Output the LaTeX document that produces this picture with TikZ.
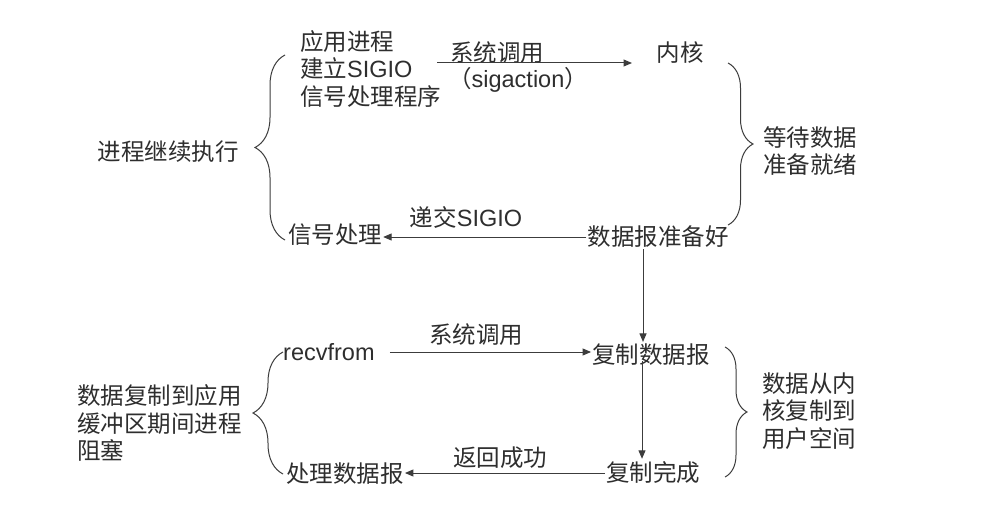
\documentclass[tikz,border=0pt]{standalone}
\usepackage{fontspec}
\setmainfont{Noto Sans CJK SC}
\newfontfamily\lat{Liberation Sans}
\usetikzlibrary{arrows.meta,decorations.pathreplacing}

\definecolor{ink}{HTML}{2E2E2E}
\definecolor{wire}{HTML}{3C3C3C}

\tikzset{
  txt/.style={inner sep=1pt, text=ink, font=\fontsize{23.5}{27.5}\selectfont},
  block/.style={txt, align=left},
  arr/.style={draw=wire, line width=1pt, -{Triangle[length=8.5pt,width=7pt]}},
  brc/.style={draw=wire, line width=1pt, decorate,
              decoration={brace, amplitude=#1}},
}

\begin{document}
\begin{tikzpicture}[x=1pt,y=-1pt]
  \useasboundingbox (0,0) rectangle (982,516);
  \fill[white] (0,0) rectangle (982,516);

  % ---------- signal set-up and notification ----------
  \node[txt] (cont) at (168,152) {进程继续执行};
  \node[block, anchor=west] (app) at (299,69)
       {应用进程\\建立{\lat SIGIO}\\信号处理程序};
  \node[txt] (kernel) at (680,53) {内核};
  \node[txt] (lsys1) at (497,53) {系统调用};
  \node[txt] (lsigact) at (518,80) {（{\lat sigaction}）};
  \node[block] (wait) at (810,151) {等待数据\\准备就绪};
  \node[txt] (sig) at (335,235) {信号处理};
  \node[txt] (ldeliver) at (466,217) {递交{\lat SIGIO}};
  \node[txt] (ready) at (658,237) {数据报准备好};

  % ---------- blocking copy ----------
  \node[txt, anchor=west] (recv) at (282,352) {{\lat recvfrom}};
  \node[txt] (lsys2) at (476,335) {系统调用};
  \node[txt] (copy) at (651,355) {复制数据报};
  \node[txt] (done) at (653,473) {复制完成};
  \node[txt] (lret) at (500,458) {返回成功};
  \node[txt] (handle) at (345,474) {处理数据报};
  \node[block, anchor=west] (blockd) at (76,423)
       {数据复制到应用\\缓冲区期间进程\\阻塞};
  \node[block, anchor=west] (kcopy) at (761,411)
       {数据从内\\核复制到\\用户空间};

  % connector end points
  \coordinate (sysA) at (437,63);
  \coordinate (sysB) at (632,63);
  \coordinate (vx1) at (643,0);
  \coordinate (vx2) at (642,0);

  % connectors
  \draw[arr] (sysA) -- (sysB);
  \draw[arr] (ready.west) -- (ready.west -| sig.east);
  \draw[arr] (ready.south -| vx1) -- ([yshift=1pt]copy.north -| vx1);
  \draw[arr] ([xshift=14pt]recv.east) -- (recv.east -| copy.west);
  \draw[arr] ([yshift=6pt]copy.south -| vx2) -- ([yshift=2pt]done.north -| vx2);
  \draw[arr] (done.west) -- (done.west -| handle.east);

  % braces
  \draw[brc=30pt] (285,240) -- (285,55);
  \draw[brc=25pt] (728,63) -- (728,225);
  \draw[brc=30pt] (283,474) -- (283,352);
  \draw[brc=22pt] (725,347) -- (725,477);
\end{tikzpicture}
\end{document}
